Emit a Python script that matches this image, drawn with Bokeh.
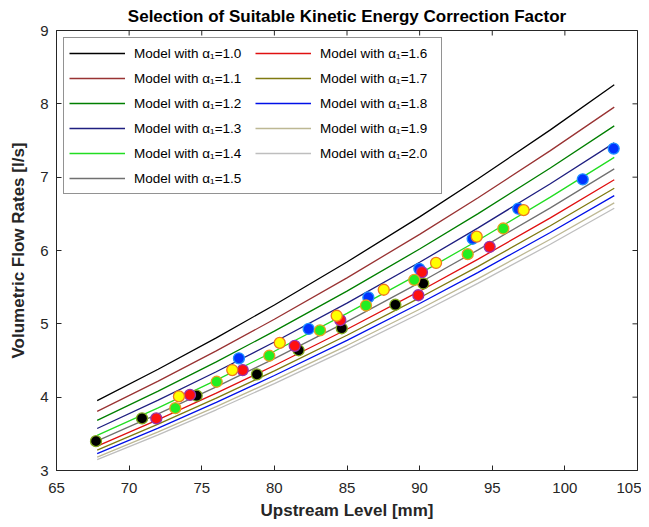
from bokeh.plotting import figure
from bokeh.models import Legend, LegendItem, FixedTicker
from bokeh.embed import file_html
from bokeh.resources import INLINE
import math

# ---------------- data ----------------
x_model = [67.8, 72.0, 76.0, 80.0, 85.0, 90.0, 94.0, 99.0, 103.4]
alpha_labels = ["1.0", "1.1", "1.2", "1.3", "1.4", "1.5", "1.6", "1.7", "1.8", "1.9", "2.0"]
q_a10 = [3.953, 4.381, 4.809, 5.257, 5.843, 6.459, 6.974, 7.645, 8.261]
q_a11 = [3.807, 4.219, 4.631, 5.062, 5.627, 6.220, 6.716, 7.362, 7.955]
q_a12 = [3.684, 4.083, 4.482, 4.900, 5.446, 6.020, 6.500, 7.125, 7.699]
q_a13 = [3.573, 3.960, 4.347, 4.752, 5.282, 5.839, 6.305, 6.911, 7.468]
q_a14 = [3.479, 3.855, 4.232, 4.626, 5.142, 5.684, 6.137, 6.728, 7.270]
q_a15 = [3.404, 3.772, 4.141, 4.526, 5.031, 5.561, 6.005, 6.582, 7.113]
q_a16 = [3.332, 3.693, 4.054, 4.432, 4.926, 5.445, 5.879, 6.445, 6.964]
q_a17 = [3.277, 3.632, 3.987, 4.358, 4.844, 5.355, 5.781, 6.338, 6.848]
q_a18 = [3.230, 3.579, 3.929, 4.295, 4.774, 5.277, 5.698, 6.246, 6.749]
q_a19 = [3.182, 3.527, 3.871, 4.232, 4.704, 5.199, 5.614, 6.154, 6.650]
q_a20 = [3.147, 3.487, 3.828, 4.185, 4.651, 5.141, 5.551, 6.085, 6.576]
model_values = [q_a10, q_a11, q_a12, q_a13, q_a14, q_a15, q_a16, q_a17, q_a18, q_a19, q_a20]
line_colors = ["#000000", "#993333", "#007F00", "#1F1F80", "#22DD22", "#707070",
               "#E01010", "#7F7A10", "#0010E8", "#BDB894", "#BEBEBE"]

# measured points (5 series)
x_blue = [77.56, 82.36, 86.47, 89.98, 93.65, 96.79, 101.23, 103.36]
y_blue = [4.53, 4.93, 5.36, 5.75, 6.16, 6.57, 6.97, 7.39]
x_black = [67.72, 70.89, 74.65, 78.80, 81.67, 84.64, 88.33, 90.25]
y_black = [3.40, 3.71, 4.02, 4.31, 4.64, 4.94, 5.26, 5.55]
x_red = [71.87, 74.19, 77.82, 81.40, 84.54, 89.91, 90.16, 94.82]
y_red = [3.71, 4.03, 4.37, 4.70, 5.05, 5.39, 5.705, 6.05]
x_green = [73.18, 76.03, 79.65, 83.14, 86.31, 89.63, 93.31, 95.76]
y_green = [3.85, 4.21, 4.565, 4.91, 5.25, 5.60, 5.95, 6.30]
x_yellow = [73.43, 77.10, 80.37, 84.29, 87.53, 91.13, 93.93, 97.16]
y_yellow = [4.01, 4.37, 4.74, 5.11, 5.465, 5.83, 6.19, 6.55]

x_ticks = [65, 70, 75, 80, 85, 90, 95, 100, 105]
y_ticks = [3, 4, 5, 6, 7, 8, 9]

FONT = "Liberation Sans"
AX = "#262626"

p = figure(frame_width=581, frame_height=440,
           x_range=(x_ticks[0], x_ticks[-1]), y_range=(y_ticks[0], y_ticks[-1]),
           output_backend="svg", toolbar_location=None,
           title="Selection of Suitable Kinetic Energy Correction Factor",
           min_border_left=56, min_border_right=4, min_border_top=29, min_border_bottom=0)

p.title.align = "center"
p.title.text_font = FONT
p.title.text_font_size = "17px"
p.title.text_font_style = "bold"
p.title.text_color = "#000000"
p.title.standoff = 9

p.xgrid.visible = False
p.ygrid.visible = False
p.outline_line_color = AX
p.outline_line_width = 1

for ax in (p.xaxis[0], p.yaxis[0]):
    ax.major_tick_in = 5
    ax.major_tick_out = 0
    ax.minor_tick_line_color = None
    ax.axis_line_color = AX
    ax.major_tick_line_color = AX
    ax.major_label_text_font = FONT
    ax.major_label_text_font_size = "15px"
    ax.major_label_text_color = AX
    ax.axis_label_text_font = FONT
    ax.axis_label_text_font_size = "17px"
    ax.axis_label_text_font_style = "bold"
    ax.axis_label_text_color = AX
p.xaxis.ticker = FixedTicker(ticks=x_ticks)
p.yaxis.ticker = FixedTicker(ticks=y_ticks)
p.xaxis.axis_label = "Upstream Level [mm]"
p.yaxis.axis_label = "Volumetric Flow Rates [l/s]"
p.xaxis.major_label_standoff = 12
p.yaxis.major_label_standoff = 8
p.xaxis.axis_label_standoff = 5
p.yaxis.axis_label_standoff = 9

# inward tick marks on the top and right edges of the box
p.scatter(x_ticks, [y_ticks[-1]] * len(x_ticks), marker="dash", angle=math.pi / 2,
          size=10, line_color=AX, line_width=1)
p.scatter([x_ticks[-1]] * len(y_ticks), y_ticks, marker="dash",
          size=10, line_color=AX, line_width=1)

renderers = []
for vals, col in zip(model_values, line_colors):
    r = p.line(x_model, vals, line_color=col, line_width=1.3)
    renderers.append(r)

p.scatter(x_blue, y_blue, size=11, fill_color="#0033FF", line_color="#1E90FF", line_width=1.3)
p.scatter(x_black, y_black, size=11, fill_color="#000000", line_color="#7FA81E", line_width=1.3)
p.scatter(x_red, y_red, size=11, fill_color="#FF1010", line_color="#9933AA", line_width=1.3)
p.scatter(x_green, y_green, size=11, fill_color="#22EE22", line_color="#E8A020", line_width=1.3)
p.scatter(x_yellow, y_yellow, size=11, fill_color="#FFFF00", line_color="#F07820", line_width=1.3)

items = [LegendItem(label="Model with α₁=" + a, renderers=[r])
         for a, r in zip(alpha_labels, renderers)]
legend = Legend(items=items, ncols=2, location="top_left", margin=7, padding=5,
                spacing=5, label_height=20, glyph_height=20, glyph_width=56,
                label_width=116, label_standoff=9, label_text_font=FONT,
                label_text_font_size="13.5px", label_text_color="#000000",
                border_line_color="#262626", border_line_width=1,
                background_fill_color="white", background_fill_alpha=1)
p.add_layout(legend)

open("out.html", "w").write(file_html(p, INLINE))
